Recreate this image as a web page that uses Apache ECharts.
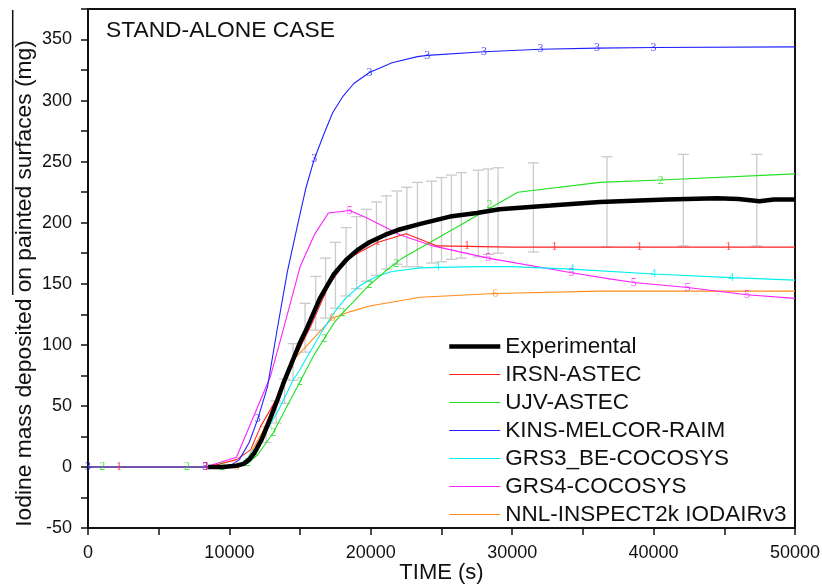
<!DOCTYPE html>
<html><head><meta charset="utf-8">
<script src="https://cdn.jsdelivr.net/npm/echarts@6/dist/echarts.min.js"></script>
<style>html,body{margin:0;padding:0;background:#fff}#c{width:822px;height:587px}</style>
</head><body><div id="c"></div>
<script>
// ---------- data ----------
const chartTitle = 'STAND-ALONE CASE';
const xAxisTitle = 'TIME (s)';
const yAxisTitle = 'Iodine mass deposited on painted surfaces (mg)';
const xTickLabels = ['0','10000','20000','30000','40000','50000'];
const yTickLabels = ['-50','0','50','100','150','200','250','300','350'];

const seriesNames = ['Experimental','IRSN-ASTEC','UJV-ASTEC','KINS-MELCOR-RAIM','GRS3_BE-COCOSYS','GRS4-COCOSYS','NNL-INSPECT2k IODAIRv3'];
const seriesColors = ['#000000','#ff2020','#20e020','#2020ff','#00f0f0','#ff20ff','#ff8c1a'];
const markDigits = ['','1','2','3','4','5','6'];

const experimental = [[8500,0],[9500,0],[10500,1],[11000,2.5],[11400,6],[11800,12],[12300,23],[12900,40],[13400,55],[13800,68],[14400,85],[15000,102],[15500,114],[16400,138],[17400,158],[18300,170],[19100,178],[19900,184],[21000,190],[21900,194],[23500,199],[25600,205],[27500,208],[29100,211],[32700,214],[36200,217],[40900,219],[44500,220],[46000,219.5],[47500,217.5],[48500,219],[50000,219]];
const irsnAstec = [[0,0],[8500,0],[10500,6],[11500,14],[12200,33],[13400,57],[14400,84],[15700,114],[17000,148],[18300,170],[20500,184],[22500,191],[24700,181],[30000,180],[40000,180],[50000,180]];
const ujvAstec = [[0,0],[9000,0],[10500,0.5],[11300,3],[12000,10],[13100,28],[14000,48],[15000,70],[16000,92],[16700,105],[17400,118],[18000,126],[19000,138],[19900,149],[21000,160],[22100,170],[30400,225],[36200,233],[40500,235],[50000,240]];
const kinsMelcor = [[0,0],[9500,0],[10200,2],[10700,6],[11400,20],[12000,39],[12700,66],[13400,114],[14100,160],[14800,197],[15400,228],[16000,252],[16700,273],[17300,290],[18000,303],[18800,314],[19900,323],[21500,331],[23300,336],[24000,337],[28000,340],[32000,342],[36000,343],[40000,343.5],[50000,344]];
const grs3Cocosys = [[9000,0],[10500,1],[11000,4],[11600,11],[12400,25],[13500,47],[14500,71],[15000,80],[15600,92],[16600,112],[17500,128],[18300,139],[19300,149],[20400,156],[21500,160],[23500,163],[27500,164],[30000,164],[34200,162],[40000,158],[45500,155],[50000,153]];
const grs4Cocosys = [[8300,0],[10500,8],[12900,74],[13800,112],[15000,164],[16000,190],[17000,208],[18500,210],[19700,204],[22100,190],[24400,181],[28300,171],[34200,159],[36900,154],[38600,151],[42400,147],[46600,141],[50000,138]];
const nnlInspect = [[10000,0],[10500,0.5],[11200,5],[12400,30],[13400,57],[14400,86],[17300,122],[18500,127],[20000,132],[23500,139],[28800,142],[36200,144],[50000,144]];

// numbered markers along each simulated curve
const irsnMarks = [[2200,0],[8400,0],[14400,84],[20500,184],[26800,181],[33000,180],[39000,180],[45300,180]];
const ujvMarks = [[1000,0],[7000,0],[9500,0],[11300,3],[13100,28],[15000,70],[16700,105],[18000,126],[19900,149],[21800,166],[28400,215],[40500,234]];
const kinsMarks = [[0,0],[8300,0],[12000,39],[16000,252],[19900,323],[24000,337],[28000,340],[32000,342],[36000,343],[40000,343.5]];
const grs3Marks = [[11600,11],[24700,164],[34200,162],[40000,158],[45500,155]];
const grs4Marks = [[8300,0],[18500,210],[28300,171],[34200,159],[38600,151],[42400,147],[46600,141]];
const nnlMarks = [[10500,0],[17300,122],[28800,142]];

// experimental uncertainty bars
const errX    = [12600,13300,13900,14500,15350,16100,16800,17500,18250,19000,19700,20400,21100,21850,22550,23300,24300,25000,25700,26400,27600,28300,29000,31500,36700,42100,47300];
const errLow  = [20,36,52,71,94,112,122,130,140,146,152,157,162,166,164,164,167,168,170,171,172,174,175,176,180,181,181];
const errHigh = [33,54,72,101,134,156,171,184,196,205,211,217,222,226,229,233,234,237,239,241,243,244,245,249,254,256,256];

// ---------- chart ----------
const lineData = [experimental, irsnAstec, ujvAstec, kinsMelcor, grs3Cocosys, grs4Cocosys, nnlInspect];
const markData = [null, irsnMarks, ujvMarks, kinsMarks, grs3Marks, grs4Marks, nnlMarks];
const lineWidths = [4.5, 1.1, 1.1, 1.1, 1.1, 1.1, 1.1];
const FONT = "'Liberation Sans', Arial, sans-serif";

const series = [];
series.push({
  name: 'error', type: 'custom', z: 1, silent: true,
  data: errX.map((x, i) => [x, errLow[i], errHigh[i]]),
  encode: { x: 0, y: [1, 2] },
  renderItem: function (params, api) {
    const x = api.value(0);
    const lo = api.coord([x, api.value(1)]);
    const hi = api.coord([x, api.value(2)]);
    const w = 5.5;
    const st = { stroke: '#cacaca', lineWidth: 1.3 };
    return { type: 'group', children: [
      { type: 'line', shape: { x1: lo[0], y1: lo[1], x2: hi[0], y2: hi[1] }, style: st },
      { type: 'line', shape: { x1: hi[0] - w, y1: hi[1], x2: hi[0] + w, y2: hi[1] }, style: st },
      { type: 'line', shape: { x1: lo[0] - w, y1: lo[1], x2: lo[0] + w, y2: lo[1] }, style: st }
    ]};
  }
});
for (let i = 6; i >= 0; i--) {
  series.push({
    name: seriesNames[i], type: 'line', data: lineData[i],
    showSymbol: false, symbol: 'none', smooth: false,
    lineStyle: { color: seriesColors[i], width: lineWidths[i] },
    itemStyle: { color: seriesColors[i] },
    z: i === 0 ? 5 : (i === 3 ? 4 : 3), silent: true
  });
  if (markData[i]) {
    series.push({
      name: seriesNames[i] + ' marks', type: 'scatter', data: markData[i],
      symbol: 'circle', symbolSize: 1, itemStyle: { color: 'rgba(0,0,0,0)' },
      z: 4, silent: true,
      label: { show: true, position: 'inside', formatter: markDigits[i],
        color: seriesColors[i], fontFamily: "'Liberation Serif', 'Times New Roman', serif", fontSize: 12 }
    });
  }
}

const chart = echarts.init(document.getElementById('c'), null, { renderer: 'canvas' });
chart.setOption({
  animation: false,
  backgroundColor: '#fff',
  textStyle: { fontFamily: FONT },
  title: { text: chartTitle, left: 101, top: 14,
    textStyle: { fontFamily: FONT, fontSize: 22.8, fontWeight: 'normal', color: '#111' } },
  grid: { left: 88, right: 27, top: 9, bottom: 59, outerBoundsMode: 'none', containLabel: false,
    show: true, borderColor: '#111', borderWidth: 2, backgroundColor: 'transparent' },
  legend: {
    orient: 'vertical', left: 447, top: 335, padding: 0,
    itemWidth: 51, itemHeight: 14, itemGap: 5,
    data: seriesNames.map((n, i) => ({ name: n, lineStyle: { width: i === 0 ? 4.5 : 1.2 } })),
    itemStyle: { color: 'rgba(0,0,0,0)', borderWidth: 0 },
    textStyle: { fontFamily: FONT, fontSize: 22.5, color: '#111' },
    selectedMode: false
  },
  graphic: [{ type: 'line', shape: { x1: 12.7, y1: 10, x2: 12.7, y2: 295 }, style: { stroke: '#111', lineWidth: 1.5 } }],
  xAxis: {
    type: 'value', min: 0, max: 50000, interval: 10000,
    name: xAxisTitle, nameLocation: 'middle', nameGap: 34, nameMoveOverlap: false,
    nameTextStyle: { fontFamily: FONT, fontSize: 22, color: '#111' },
    axisLine: { show: true, onZero: false, lineStyle: { color: '#111', width: 2 } },
    axisTick: { show: true, inside: false, length: 7, lineStyle: { color: '#111', width: 1.5 } },
    minorTick: { show: true, splitNumber: 2, length: 7, lineStyle: { color: '#111', width: 1.5 } },
    axisLabel: { fontFamily: FONT, fontSize: 18, color: '#111', margin: 16,
      formatter: v => xTickLabels[Math.round(v / 10000)] },
    splitLine: { show: false }
  },
  yAxis: {
    type: 'value', min: -50, max: 375, interval: 50,
    name: yAxisTitle, nameLocation: 'middle', nameGap: 52, nameMoveOverlap: false,
    nameTextStyle: { fontFamily: FONT, fontSize: 22.8, color: '#111', padding: [0, 30, 0, 0] },
    axisLine: { show: true, onZero: false, lineStyle: { color: '#111', width: 2 } },
    axisTick: { show: true, length: 7, lineStyle: { color: '#111', width: 1.5 } },
    minorTick: { show: true, splitNumber: 2, length: 7, lineStyle: { color: '#111', width: 1.5 } },
    axisLabel: { fontFamily: FONT, fontSize: 18, color: '#111', margin: 16, showMaxLabel: false,
      formatter: v => { const k = Math.round((v + 50) / 50); return (v % 50 === 0 && yTickLabels[k]) ? yTickLabels[k] : ''; } },
    splitLine: { show: false }
  },
  series: series
});
</script>
</body></html>
